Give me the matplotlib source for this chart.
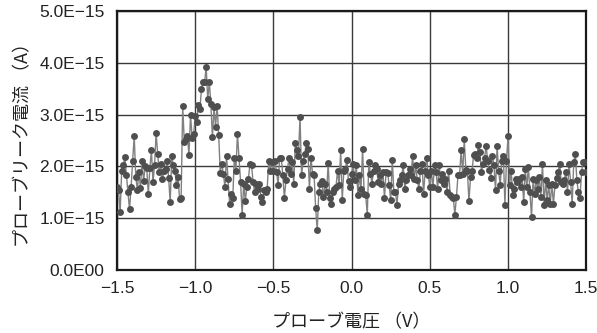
import numpy as np
import matplotlib
matplotlib.use("Agg")
import matplotlib.pyplot as plt

# probe leakage current in units of 1E-15 A (0.01 V steps)
seg_a = [1.60, 1.54, 1.12, 1.92, 2.02, 2.18, 1.83, 1.50, 1.17, 1.60,
         2.11, 2.58, 1.80, 1.55, 1.90, 1.58, 2.10, 1.72, 2.00, 1.97,
         1.46, 1.97, 2.31, 1.70, 2.02, 2.65, 2.24, 1.89, 2.04, 1.75,
         1.92, 1.95, 2.11, 1.78, 1.31, 2.21, 2.02, 1.92, 1.64, 1.80,
         1.38, 1.39, 3.17, 2.48, 2.53, 2.59, 2.22, 3.00]
seg_b = [2.55, 2.63, 2.97, 2.85, 3.19, 3.11, 3.49, 3.63, 3.62, 3.92,
         3.30, 3.63, 3.20, 2.56, 3.14, 2.76, 3.17, 2.61, 1.88, 2.05,
         1.86, 1.60, 2.21, 1.75, 1.28, 1.47, 1.39, 2.17, 1.92, 2.63,
         2.17, 1.70, 1.07, 1.67, 1.33, 1.60, 1.76, 2.05, 2.02, 1.70,
         1.50, 1.67, 1.57, 1.67, 1.41, 1.31, 1.54, 1.50, 1.57, 2.11, 1.92]
seg_c = [2.08, 1.92, 2.11, 1.90, 1.64, 2.17, 2.17, 1.83, 1.39, 1.73,
         1.95, 2.17, 1.86, 2.08, 1.67, 2.45, 2.32, 2.21, 2.95, 1.83,
         2.10, 2.24, 2.45, 2.34, 1.56, 2.17, 1.86, 1.83, 1.19, 0.77,
         1.50, 1.67, 1.71, 1.41, 1.67, 1.50, 2.07, 1.39, 1.28, 1.50,
         1.57, 1.60, 1.92, 1.64, 2.31, 1.35, 1.92, 1.95, 2.13, 1.71,
         1.60, 1.86, 2.05]
seg_d = [1.73, 2.02, 1.44, 1.83, 1.57, 2.34, 1.47, 1.44, 1.07,
         2.08, 1.86, 1.67, 1.92, 2.02, 1.95, 1.70, 1.83, 1.67, 1.89,
         1.39, 1.89, 1.88, 1.64, 1.35, 2.13, 1.50, 1.50, 1.25, 1.67,
         1.73, 1.83, 2.02, 1.57, 1.73, 1.83, 1.95, 1.83, 2.21, 1.75,
         2.02, 1.73, 1.57, 1.92, 2.05, 1.47, 1.92, 2.17, 1.83, 1.60,
         1.92, 1.60, 2.02]
seg_e = [1.89, 1.57, 2.02, 1.73, 1.86, 1.67, 1.76,
         1.50, 1.92, 1.45, 1.41, 1.39, 1.07, 1.41, 1.83, 1.83, 2.31,
         1.86, 2.52, 1.94, 1.92, 1.33, 1.79, 1.92, 2.22, 2.24, 2.17,
         2.41, 2.27, 1.90, 2.05, 2.17, 2.40, 2.10, 1.94, 1.78, 2.21,
         2.02, 1.54, 2.39, 1.92, 1.64, 2.11, 2.21, 1.26, 2.11, 2.58,
         1.64, 1.92, 1.44, 1.57, 1.76]
seg_f = [1.70, 1.76, 1.60, 1.79, 1.31,
         1.95, 1.60, 1.99, 1.50, 1.02, 1.76, 1.47, 1.73, 1.57, 1.79,
         1.41, 2.05, 1.25, 1.73, 1.35, 1.64, 1.28, 1.67, 1.28, 1.64,
         1.78, 1.89, 2.05, 1.70, 1.67, 1.73, 1.89, 1.50, 2.05, 1.70,
         1.28, 2.08, 2.24, 1.73, 1.50, 1.39, 1.89, 2.08, 2.08, 1.90]

current = np.array(seg_a + seg_b + seg_c + seg_d + seg_e + seg_f) * 1e-15
voltage = np.linspace(-1.5, 1.5, len(current))

x_ticks = [-1.5, -1.0, -0.5, 0.0, 0.5, 1.0, 1.5]
x_labels = ["\u22121.5", "\u22121.0", "\u22120.5", "0.0", "0.5", "1.0", "1.5"]
y_ticks = [0, 1e-15, 2e-15, 3e-15, 4e-15, 5e-15]
y_labels = ["0.0E00", "1.0E\u221215", "2.0E\u221215", "3.0E\u221215", "4.0E\u221215", "5.0E\u221215"]

num_font = ["Liberation Sans", "Noto Sans CJK JP"]
jp_font = ["Noto Sans CJK JP", "DejaVu Sans"]

fig = plt.figure(figsize=(5.97, 3.33), dpi=100)
ax = fig.add_axes([0.196, 0.189, 0.786, 0.778])

ax.plot(voltage, current, color="#808080", lw=1.0, zorder=2)
ax.plot(voltage, current, "o", color="#4f4f4f", ms=5.0, mew=0, zorder=3)

ax.set_xlim(-1.5, 1.5)
ax.set_ylim(0, 5e-15)
ax.set_xticks(x_ticks)
ax.set_xticklabels(x_labels, family=num_font, fontsize=12.5)
ax.set_yticks(y_ticks)
ax.set_yticklabels(y_labels, family=num_font, fontsize=12.5)
ax.tick_params(length=0, pad=9, colors="#222222")
ax.tick_params(axis="x", pad=8)

ax.grid(True, color="#3a3a3a", lw=1.0)
ax.set_axisbelow(True)
for s in ax.spines.values():
    s.set_color("#1a1a1a")
    s.set_linewidth(1.6)

ax.set_xlabel("プローブ電圧 （V）", family=jp_font, fontsize=13, color="#222222", labelpad=12)
ax.set_ylabel("プローブリーク電流 （A）", family=jp_font, fontsize=13, color="#222222", labelpad=5)

fig.savefig("out.png", dpi=100)
